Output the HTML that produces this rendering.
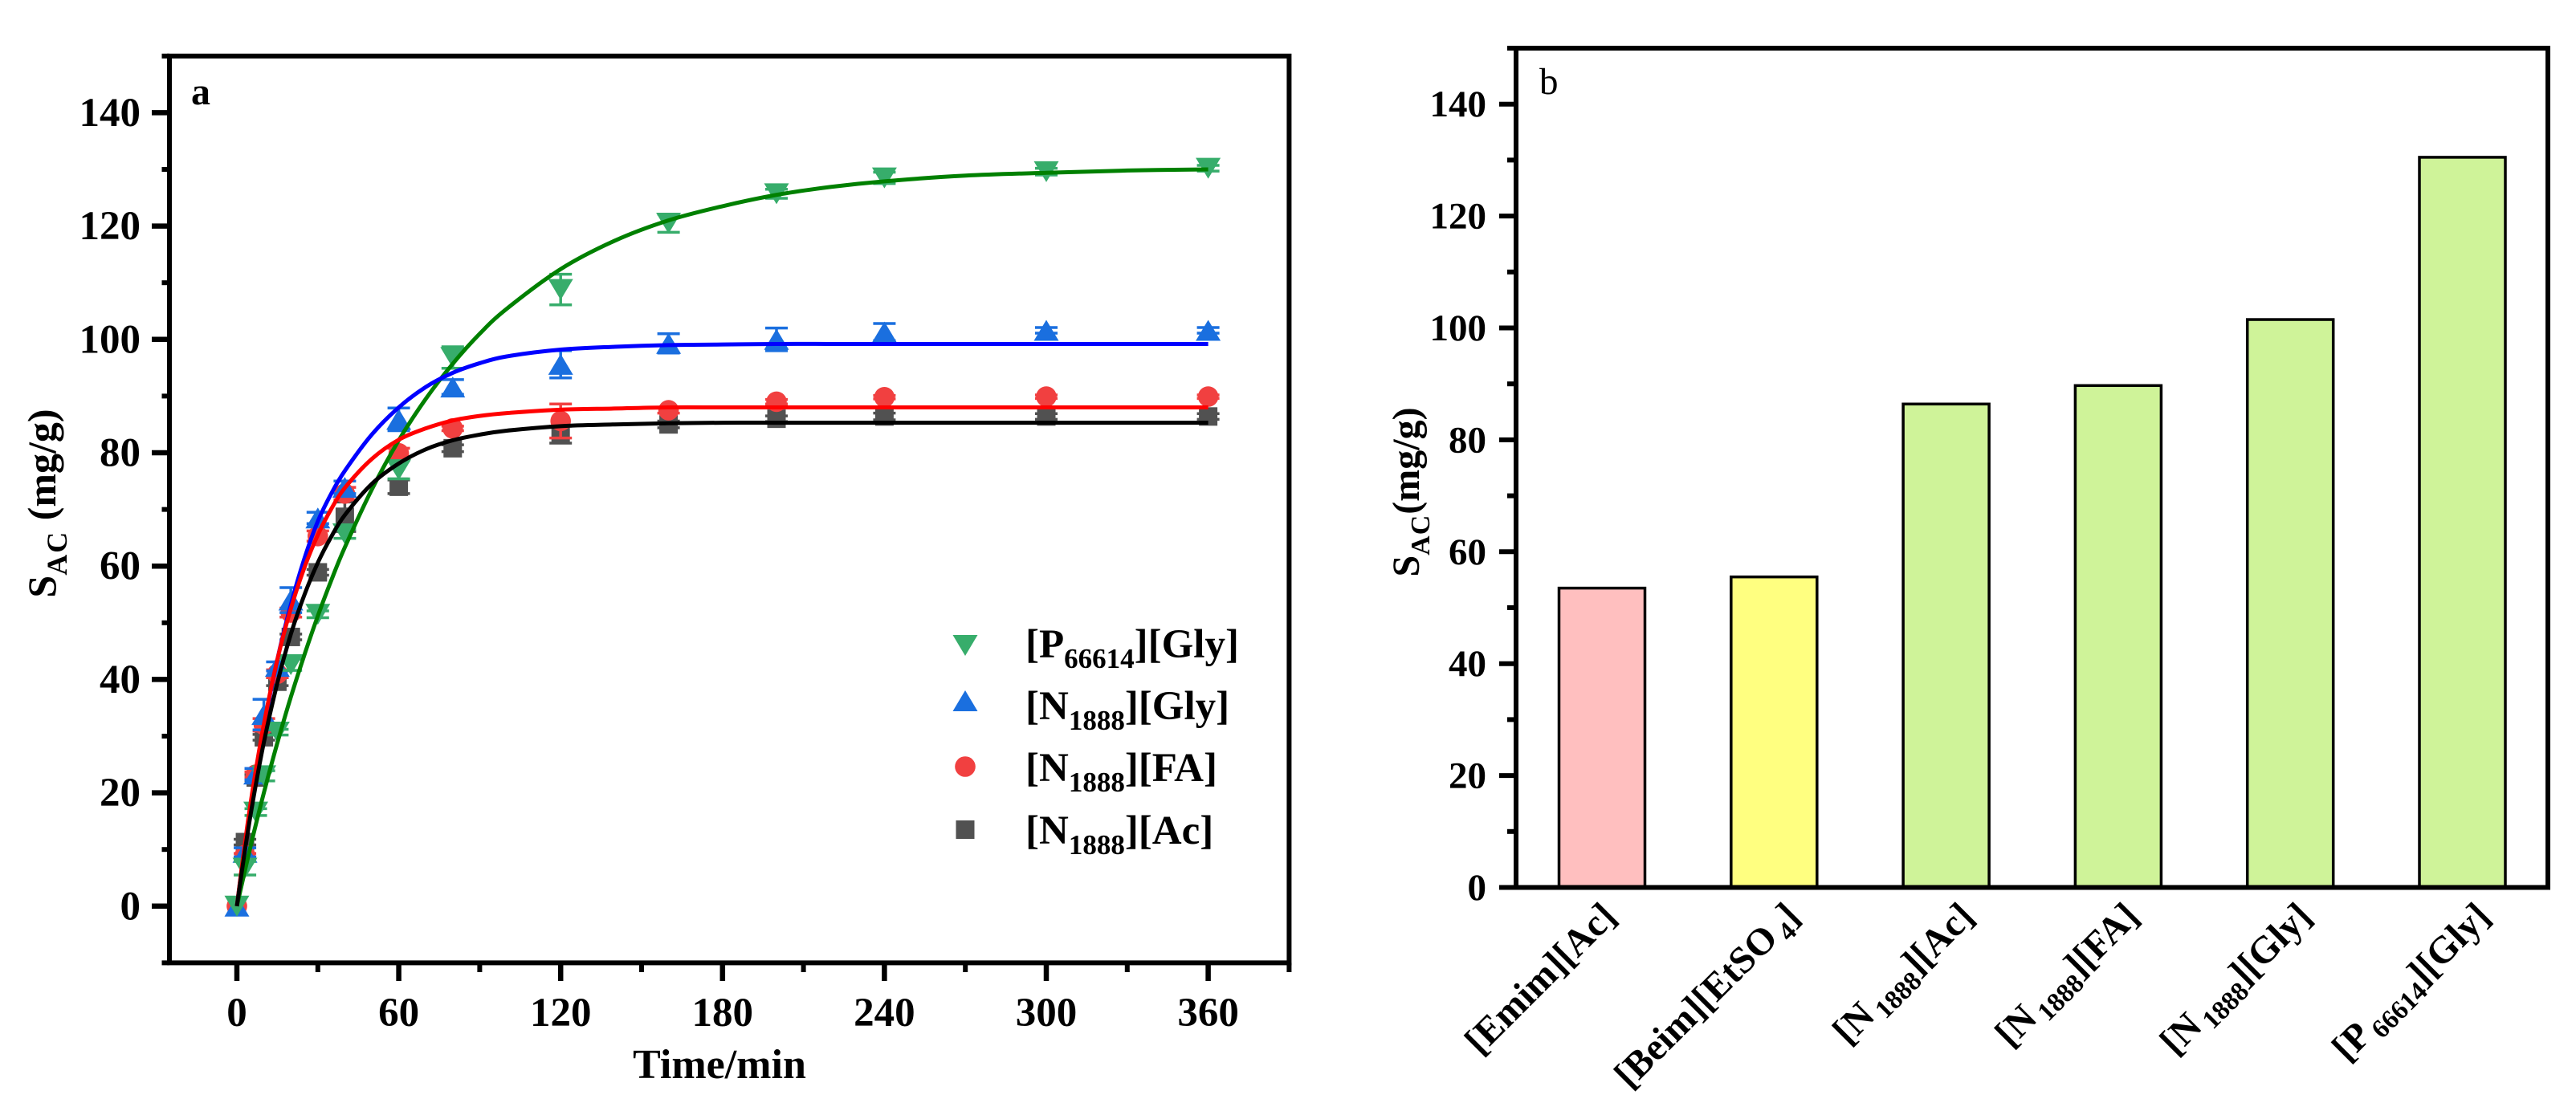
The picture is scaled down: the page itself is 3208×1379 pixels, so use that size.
<!DOCTYPE html>
<html lang="en">
<head>
<meta charset="utf-8">
<title>Adsorption kinetics and capacity of ionic liquids</title>
<style>
html,body{margin:0;padding:0;background:#fff;}
svg{display:block;}
text{font-family:"Liberation Serif",serif;fill:#000;}
.b{font-weight:bold;}
</style>
</head>
<body>
<svg id="figure" xmlns="http://www.w3.org/2000/svg" width="3208" height="1379" viewBox="0 0 3208 1379">
  <rect x="0" y="0" width="3208" height="1379" fill="#ffffff"/>

  <g id="panelA">
    <g id="aMarks"></g>
    <g id="aLines"></g>
    <g id="aAxes"></g>
    <text class="b" x="238" y="130" font-size="48">a</text>
    <text class="b" x="896" y="1343" font-size="52" text-anchor="middle">Time/min</text>
    <text class="b" transform="translate(69,627) rotate(-90)" font-size="50" text-anchor="middle">S<tspan font-size="36" dy="14" letter-spacing="2">AC</tspan><tspan dy="-14"> (mg/g)</tspan></text>
    <g id="aLegend">
      <text class="b" x="1277" y="819" font-size="51">[P<tspan font-size="35" dy="13">66614</tspan><tspan dy="-13">][Gly]</tspan></text>
      <text class="b" x="1277" y="896" font-size="51">[N<tspan font-size="35" dy="13">1888</tspan><tspan dy="-13">][Gly]</tspan></text>
      <text class="b" x="1277" y="973" font-size="51">[N<tspan font-size="35" dy="13">1888</tspan><tspan dy="-13">][FA]</tspan></text>
      <text class="b" x="1277" y="1051" font-size="51">[N<tspan font-size="35" dy="13">1888</tspan><tspan dy="-13">][Ac]</tspan></text>
    </g>
  </g>

  <g id="panelB">
    <g id="bBars"></g>
    <g id="bAxes"></g>
    <g id="bLabels"></g>
    <text x="1917" y="117" font-size="47">b</text>
    <text class="b" transform="translate(1767,613) rotate(-90)" font-size="48" text-anchor="middle">S<tspan font-size="34" dy="13" letter-spacing="1">AC</tspan><tspan dy="-13">(mg/g)</tspan></text>
  </g>
</svg>

<script>
// ---------- Panel a data ----------
const timePoints = [0, 3, 7, 10, 15, 20, 30, 40, 60, 80, 120, 160, 200, 240, 300, 360];

const p66614GlyValues = [0, 6.7, 16.6, 23, 30.7, 42.6, 51.5, 65.7, 77, 96.8, 108.8, 120.5, 125.7, 128.5, 129.6, 130.2];
const p66614GlyErrors = [0, 1.2, 0.6, 0.9, 0.5, 1, 0.6, 0.8, 1.6, 1.9, 2.7, 1.6, 0.8, 1, 0.6, 0.5];

const n1888GlyValues = [0, 9.5, 23.3, 33.8, 42.3, 54, 68.5, 73.9, 85.9, 91.6, 95.6, 99.3, 100, 101.3, 101.6, 101.6];
const n1888GlyErrors = [0, 0.8, 1, 2.7, 0.8, 2.2, 1, 1.1, 2, 1.3, 2.4, 1.7, 2, 1.5, 0.5, 0.5];

const n1888FaValues = [0, 9, 23.2, 32, 41, 51.8, 65.3, 72.8, 79.9, 84.3, 85.6, 87.5, 89, 89.8, 89.9, 89.9];
const n1888FaErrors = [0, 0.3, 0.5, 1.1, 0.7, 0.8, 0.9, 1.1, 0.9, 0.4, 3, 0.5, 0.4, 0.3, 0.3, 0.3];

const n1888AcValues = [0, 11.3, 22.7, 29.8, 39.6, 47.5, 58.9, 68.7, 74, 80.8, 83.2, 85, 86, 86.4, 86.4, 86.4];
const n1888AcErrors = [0, 0.5, 0.5, 0.5, 0.7, 0.5, 0.5, 2.6, 1.2, 0.6, 1.5, 0.6, 0.5, 0.6, 0.5, 0.5];

const curveTimes = [0, 3, 6, 10, 15, 20, 25, 30, 35, 40, 50, 60, 70, 80, 90, 100, 120, 140, 160, 180, 200, 220, 240, 270, 300, 330, 360];
const p66614GlyCurve = [0, 6.3, 12.4, 20, 28.8, 36.9, 44.3, 51.2, 57.5, 63.3, 73.5, 82.2, 89.5, 95.7, 101, 105.4, 112.4, 117.4, 121, 123.5, 125.5, 126.9, 127.9, 128.9, 129.4, 129.8, 130];
const n1888GlyCurve = [0, 10.8, 20.4, 31.6, 43.5, 53.2, 61.3, 67.9, 72.8, 76.8, 83.2, 88, 91.6, 94.1, 95.8, 97, 98.2, 98.7, 99, 99.1, 99.2, 99.2, 99.2, 99.2, 99.2, 99.2, 99.2];
const n1888FaCurve = [0, 11.2, 21, 32.1, 43.5, 52.5, 59.7, 65.5, 70.1, 73.8, 78.9, 82.3, 84.3, 85.7, 86.5, 87, 87.6, 87.8, 88, 88, 88, 88, 88, 88, 88, 88, 88];
const n1888AcCurve = [0, 9.9, 18.7, 28.9, 39.4, 48, 54.9, 60.6, 65.2, 69, 74.5, 78.1, 80.6, 82.2, 83.2, 83.9, 84.7, 85, 85.2, 85.3, 85.3, 85.3, 85.3, 85.3, 85.3, 85.3, 85.3];

const aXMajorTicks = [0, 60, 120, 180, 240, 300, 360];
const aXMinorTicks = [30, 90, 150, 210, 270, 330, 390];
const aYMajorTicks = [0, 20, 40, 60, 80, 100, 120, 140];
const aYMinorTicks = [-10, 10, 30, 50, 70, 90, 110, 130, 150];

// ---------- Panel b data ----------
const categories = ['[Emim][Ac]', '[Beim][EtSO4]', '[N1888][Ac]', '[N1888][FA]', '[N1888][Gly]', '[P66614][Gly]'];
const barValues = [53.5, 55.5, 86.4, 89.7, 101.5, 130.5];
const bYMajorTicks = [0, 20, 40, 60, 80, 100, 120, 140];
const bYMinorTicks = [10, 30, 50, 70, 90, 110, 130, 150];

// ---------- Layout and style ----------
const NS = 'http://www.w3.org/2000/svg';
const ax = t => 295 + t * 3.36;
const ay = v => 1128.8 - v * 7.06;
const bx = i => 1995 + i * 214.3;
const by = v => 1105.5 - v * 6.97;
const barHalf = 53.5;
const barColors = ['#FFBFBF', '#FFFF80', '#CFF399', '#CFF399', '#CFF399', '#CFF399'];
const labelNudge = [24, 38, 41, 32, 33, 41];

function make(parent, tag, attrs, text) {
  const el = document.createElementNS(NS, tag);
  for (const k in attrs) el.setAttribute(k, attrs[k]);
  if (text !== undefined) el.textContent = text;
  parent.appendChild(el);
  return el;
}

function drawMarker(parent, shape, cx, cy, color, name) {
  let el;
  if (shape === 'down') {
    el = make(parent, 'polygon', {points: (cx-15.5)+','+(cy-13)+' '+(cx+15.5)+','+(cy-13)+' '+cx+','+(cy+13), fill: color});
  } else if (shape === 'up') {
    el = make(parent, 'polygon', {points: (cx-15.5)+','+(cy+13)+' '+(cx+15.5)+','+(cy+13)+' '+cx+','+(cy-13), fill: color});
  } else if (shape === 'circle') {
    el = make(parent, 'circle', {cx: cx, cy: cy, r: 12.8, fill: color});
  } else {
    el = make(parent, 'rect', {x: cx-11.5, y: cy-11.5, width: 23, height: 23, fill: color});
  }
  
  
}

function smoothPath(xs, ys) {
  let d = 'M' + xs[0].toFixed(2) + ' ' + ys[0].toFixed(2);
  for (let i = 0; i < xs.length - 1; i++) {
    const i0 = Math.max(i - 1, 0), i3 = Math.min(i + 2, xs.length - 1);
    const c1x = xs[i] + (xs[i+1] - xs[i0]) / 6, c1y = ys[i] + (ys[i+1] - ys[i0]) / 6;
    const c2x = xs[i+1] - (xs[i3] - xs[i]) / 6, c2y = ys[i+1] - (ys[i3] - ys[i]) / 6;
    d += 'C' + c1x.toFixed(2) + ' ' + c1y.toFixed(2) + ' ' + c2x.toFixed(2) + ' ' + c2y.toFixed(2) + ' ' + xs[i+1].toFixed(2) + ' ' + ys[i+1].toFixed(2);
  }
  return d;
}

function drawSeries(parent, slug, shape, color, values, errors) {
  timePoints.forEach((t, i) => {
    const x = ax(t), hi = ay(values[i] + errors[i]), lo = ay(values[i] - errors[i]);
    if (errors[i] > 0) {
      const stem = make(parent, 'line', {x1: x, x2: x, y1: hi, y2: lo, stroke: color, 'stroke-width': 3.5});
      
      
      const capHi = make(parent, 'line', {x1: x-14, x2: x+14, y1: hi, y2: hi, stroke: color, 'stroke-width': 3.5});
      
      
      const capLo = make(parent, 'line', {x1: x-14, x2: x+14, y1: lo, y2: lo, stroke: color, 'stroke-width': 3.5});
      
      
    }
    drawMarker(parent, shape, x, ay(values[i]), color, slug + '-point');
  });
}

function drawCurve(parent, slug, color, curve) {
  const d = smoothPath(curveTimes.map(ax), curve.map(ay));
  const p = make(parent, 'path', {d: d, fill: 'none', stroke: color, 'stroke-width': 5});
  
  
}

// ---------- Panel a ----------
const aMarks = document.getElementById('aMarks');
const aLines = document.getElementById('aLines');
const aAxes = document.getElementById('aAxes');

drawSeries(aMarks, 'n1888-ac', 'square', '#515151', n1888AcValues, n1888AcErrors);
drawSeries(aMarks, 'n1888-fa', 'circle', '#F14040', n1888FaValues, n1888FaErrors);
drawSeries(aMarks, 'n1888-gly', 'up', '#1A6FDF', n1888GlyValues, n1888GlyErrors);
drawSeries(aMarks, 'p66614-gly', 'down', '#37AD6B', p66614GlyValues, p66614GlyErrors);

drawCurve(aLines, 'p66614-gly', '#008000', p66614GlyCurve);
drawCurve(aLines, 'n1888-gly', '#0000FF', n1888GlyCurve);
drawCurve(aLines, 'n1888-fa', '#FF0000', n1888FaCurve);
drawCurve(aLines, 'n1888-ac', '#000000', n1888AcCurve);

const aFrame = make(aAxes, 'rect', {x: ax(-25), y: ay(150), width: ax(390) - ax(-25), height: ay(-10) - ay(150), fill: 'none', stroke: '#000', 'stroke-width': 6});



aYMajorTicks.forEach(v => {
  const tick = make(aAxes, 'line', {x1: 189, x2: ax(-25), y1: ay(v), y2: ay(v), stroke: '#000', 'stroke-width': 6.5});
  
  
  const lab = make(aAxes, 'text', {x: 175, y: ay(v) + 16.5, 'font-size': 51, 'text-anchor': 'end', class: 'b'}, String(v));
  
  
});
aYMinorTicks.forEach(v => {
  const tick = make(aAxes, 'line', {x1: 201.5, x2: ax(-25), y1: ay(v), y2: ay(v), stroke: '#000', 'stroke-width': 6});
  
  
});
aXMajorTicks.forEach(t => {
  const tick = make(aAxes, 'line', {x1: ax(t), x2: ax(t), y1: ay(-10), y2: 1222, stroke: '#000', 'stroke-width': 6.5});
  
  
  const lab = make(aAxes, 'text', {x: ax(t), y: 1278, 'font-size': 51, 'text-anchor': 'middle', class: 'b'}, String(t));
  
  
});
aXMinorTicks.forEach(t => {
  const tick = make(aAxes, 'line', {x1: ax(t), x2: ax(t), y1: ay(-10), y2: 1211, stroke: '#000', 'stroke-width': 6});
  
  
});

const aLegend = document.getElementById('aLegend');
drawMarker(aLegend, 'down', 1202, 804, '#37AD6B', 'legend-marker-p66614-gly');
drawMarker(aLegend, 'up', 1202, 873, '#1A6FDF', 'legend-marker-n1888-gly');
drawMarker(aLegend, 'circle', 1202, 955, '#F14040', 'legend-marker-n1888-fa');
drawMarker(aLegend, 'square', 1202, 1033.5, '#515151', 'legend-marker-n1888-ac');

// ---------- Panel b ----------
const bBars = document.getElementById('bBars');
const bAxes = document.getElementById('bAxes');
const bLabels = document.getElementById('bLabels');

barValues.forEach((v, i) => {
  const bar = make(bBars, 'rect', {x: bx(i) - barHalf, y: by(v), width: barHalf * 2, height: by(0) - by(v), fill: barColors[i], stroke: '#000', 'stroke-width': 3.5});
  
  
});

const bFrame = make(bAxes, 'rect', {x: 1888, y: by(150), width: 3173 - 1888, height: by(0) - by(150), fill: 'none', stroke: '#000', 'stroke-width': 6});



bYMajorTicks.forEach(v => {
  const tick = make(bAxes, 'line', {x1: 1867, x2: 1888, y1: by(v), y2: by(v), stroke: '#000', 'stroke-width': 6});
  
  
  const lab = make(bAxes, 'text', {x: 1851, y: by(v) + 15.5, 'font-size': 47, 'text-anchor': 'end', class: 'b'}, String(v));
  
  
});
bYMinorTicks.forEach(v => {
  const tick = make(bAxes, 'line', {x1: 1877, x2: 1888, y1: by(v), y2: by(v), stroke: '#000', 'stroke-width': 6});
  
  
});

categories.forEach((c, i) => {
  const lab = make(bLabels, 'text', {transform: 'translate(' + (bx(i) + labelNudge[i] - 4) + ',1144) rotate(-45)', 'font-size': 47.5, 'text-anchor': 'end', class: 'b'});
  
  
  const parts = c.split(/(\d+)/);
  let pending = 0;
  parts.forEach(part => {
    if (!part) return;
    const isSub = /^\d+$/.test(part);
    const ts = make(lab, 'tspan', {}, part);
    if (isSub) {
      ts.setAttribute('font-size', 33);
      ts.setAttribute('dy', 10);
      ts.setAttribute('dx', 6);
      pending = -10;
    } else if (pending) {
      ts.setAttribute('dy', pending);
      pending = 0;
    }
  });
});
</script>
</body>
</html>
